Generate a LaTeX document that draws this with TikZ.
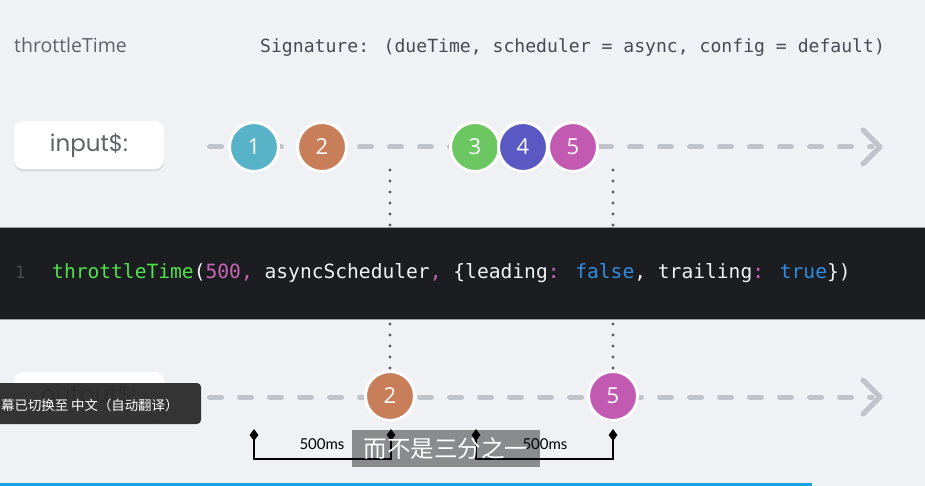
\documentclass[tikz,border=0pt]{standalone}
\usepackage{fontspec}
\setmainfont{Lato}
\newfontfamily\popp{Poppins}
\newfontfamily\monof{DejaVu Sans Mono}
\newfontfamily\cjk{Noto Sans CJK SC}
\newfontfamily\titlef{Open Sans}
\usetikzlibrary{shadows,shapes.geometric}
\definecolor{bg}{HTML}{EFF1F4}
\definecolor{titlegray}{HTML}{5F6368}
\definecolor{siggray}{HTML}{464A52}
\definecolor{dashgray}{HTML}{C0C3CA}
\definecolor{dotgray}{HTML}{5A5A5A}
\definecolor{mOne}{HTML}{58B3C8}
\definecolor{mTwo}{HTML}{C77E59}
\definecolor{mThree}{HTML}{6CC662}
\definecolor{mFour}{HTML}{5A58C2}
\definecolor{mFive}{HTML}{C35AB2}
\definecolor{band}{HTML}{1C1D21}
\definecolor{bandedge}{HTML}{9C9EA3}
\definecolor{cgreen}{HTML}{4FE04C}
\definecolor{cpink}{HTML}{C865B6}
\definecolor{cblue}{HTML}{2F8DE0}
\definecolor{cwhite}{HTML}{F2F2F2}
\definecolor{lnum}{HTML}{4A4B50}
\definecolor{capdark}{HTML}{2A2A2A}
\definecolor{ytblue}{HTML}{1BA1E2}
\tikzset{
  labelbox/.style={rounded corners=9pt, fill=white, minimum width=150pt, minimum height=48pt,
    inner sep=0pt, text=titlegray, font=\popp\fontsize{23}{26}\selectfont,
    drop shadow={opacity=0.18, shadow xshift=0pt, shadow yshift=-2.5pt}},
  marble/.style={circle, minimum size=49pt, inner sep=0pt, fill=#1, draw=white, line width=3pt,
    text=white, font=\titlef\fontsize{22}{24}\selectfont,
    drop shadow={opacity=0.15, shadow xshift=0pt, shadow yshift=-2pt}},
  dashline/.style={line width=5pt, color=dashgray, line cap=round, dash pattern=on 12pt off 18pt, dash phase=0pt},
  chev/.style={line width=5pt, color=dashgray, line cap=round, line join=round},
  dotline/.style={line width=3.2pt, color=dotgray, line cap=round, dash pattern=on 0pt off 11pt},
  bracket/.style={line width=2pt, color=black},
  dmark/.style={diamond, fill=black, minimum width=9pt, minimum height=12pt, inner sep=0pt},
  mslabel/.style={anchor=base, inner sep=0pt, font=\fontsize{15}{17}\selectfont, text=black},
}
\begin{document}
\begin{tikzpicture}[x=1pt,y=-1pt]
\fill[bg] (0,0) rectangle (925,486);
\useasboundingbox (0,0) rectangle (925,486);

% header
\node[anchor=base west, inner sep=0pt, text=titlegray, font=\titlef\fontsize{19.5}{24}\selectfont] (title) at (14,53) {throttleTime};
\node[anchor=base west, inner sep=0pt, text=siggray, font=\monof\fontsize{18.1}{22}\selectfont] (sig) at (260,53) {Signature: (dueTime, scheduler = async, config = default)};

% input row
\node[labelbox] (inbox) at (89,145) {input\$:};
\coordinate (inStart) at (209.5,147);
\coordinate (inTip) at (880,147);
\draw[dashline] (inStart) -- ([xshift=-8pt]inTip);
\draw[chev] (inTip) ++(-17,-17) -- (inTip) -- ++(-17,17);

% time markers (dotted)
\coordinate (tA) at (390,170);
\coordinate (tB) at (613,170);

% output row
\node[labelbox] (outbox) at (89,396) {output\$:};
\coordinate (outStart) at (209.5,397);
\coordinate (outTip) at (880,397);
\draw[dashline] (outStart) -- ([xshift=-8pt]outTip);
\draw[chev] (outTip) ++(-17,-17) -- (outTip) -- ++(-17,17);

\node[marble=mTwo] (o2) at (390,396) {2};
\node[marble=mFive] (o5) at (613,396) {5};

\draw[dotline] (tA) -- (o2.north);
\draw[dotline] (tB) -- (o5.north);

% input marbles
\node[marble=mOne] (i1) at (254,147) {1};
\node[marble=mTwo] (i2) at (322,147) {2};
\node[marble=mThree] (i3) at (475,147) {3};
\node[marble=mFour] (i4) at (523,147) {4};
\node[marble=mFive] (i5) at (573,147) {5};

% code band
\fill[band] (0,227) rectangle (925,319);
\draw[bandedge, line width=0.8pt] (0,227) -- (925,227);
\draw[bandedge, line width=0.8pt] (0,319) -- (925,319);
\node[anchor=base west, inner sep=0pt, text=lnum, font=\monof\fontsize{17}{20}\selectfont] (ln) at (15,278) {1};
\node[anchor=base west, inner sep=0pt, font=\monof\fontsize{19.6}{24}\selectfont] (code) at (52,278)
{\textcolor{cgreen}{throttleTime}\textcolor{cwhite}{(}\textcolor{cpink}{500,} \textcolor{cwhite}{asyncScheduler}\textcolor{cpink}{,} \textcolor{cwhite}{\{leading}\textcolor{cpink}{:} \textcolor{cblue}{false}\textcolor{cwhite}{, trailing}\textcolor{cpink}{:} \textcolor{cblue}{true}\textcolor{cwhite}{\})}};

% brackets
\coordinate (b1L) at (254,435);
\coordinate (b1R) at (391,435);
\coordinate (b2L) at (476,435);
\coordinate (b2R) at (613,435);
\draw[bracket] (b1L) -- ++(0,24) -| (b1R);
\draw[bracket] (b2L) -- ++(0,24) -| (b2R);
\node[dmark] (d1) at (b1L) {};
\node[dmark] (d2) at (b1R) {};
\node[dmark] (d3) at (b2L) {};
\node[dmark] (d4) at (b2R) {};
\node[mslabel] (ms1) at (322,449) {500ms};
\node[mslabel] (ms2) at (545,449) {500ms};

% subtitle overlays
\fill[capdark, fill opacity=0.95, rounded corners=4pt] (-6,383) rectangle (201,424);
\node[anchor=base west, inner sep=0pt, text=white, font=\cjk\fontsize{13.4}{16}\selectfont] (cap1) at (1,410) {幕已切换至 中文（自动翻译）};
\fill[black, fill opacity=0.42] (352,430) rectangle (540,467);
\node[inner sep=0pt, text=white, font=\cjk\fontsize{23.5}{26}\selectfont] (cap2) at (446,448.5) {而不是三分之一};

% bottom progress bar
\fill[ytblue] (0,483) rectangle (812,486);
\end{tikzpicture}
\end{document}
